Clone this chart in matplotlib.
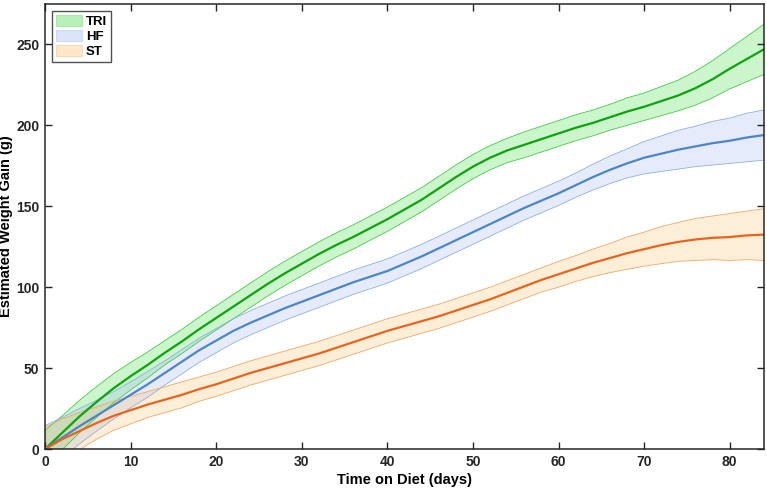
import matplotlib
matplotlib.use("Agg")
import matplotlib.pyplot as plt
from matplotlib.patches import Patch
import numpy as np

plt.rcParams['font.family'] = ['Liberation Sans', 'DejaVu Sans']
plt.rcParams['font.weight'] = 'bold'

# days on diet (every 2 days)
days = list(range(0, 85, 2))

# estimated weight gain (g) and half width of the confidence band
tri_mean = [0, 10, 20, 29, 37.5, 45, 52, 59.5, 66.5, 74, 81, 88, 95, 102, 108.5, 114.5,
            120.5, 126, 131, 136.5, 142, 148, 154, 161, 168, 174.5, 180, 184.5, 188, 191.5,
            195, 198.5, 201.5, 205, 208.5, 211.5, 215, 218.5, 223, 228.5, 235, 241, 247]
tri_half = [11.5, 10.5, 10, 9.5, 9, 8.5, 8, 7.5, 7.5, 7.5, 7.5, 7.5, 7.5, 7.5, 7.5, 7.5,
            7.5, 7.5, 7.5, 7.5, 7.5, 7.5, 7.5, 7.5, 7.5, 7.5, 7.5, 7.5, 8, 8,
            8, 8, 8, 8, 8.5, 8.5, 9, 9.5, 10.5, 11.5, 12.5, 14, 15.5]

hf_mean = [0, 7, 14, 20.5, 27, 33.5, 40, 47, 54, 61, 67, 73, 78, 82.5, 87, 91,
           95, 99, 103, 106.5, 110, 114.5, 119, 124, 129, 134, 139, 144, 149, 153.5,
           158, 163, 168, 172.5, 176.5, 180, 182.5, 185, 187, 189, 190.5, 192.5, 194]
hf_half = [14.5, 12.5, 11, 9.5, 8.5, 8, 8, 7.5, 7.5, 7.5, 7.5, 7.5, 7.5, 7.5, 7.5, 7.5,
           7.5, 7.5, 7.5, 7.5, 7.5, 7.5, 7.5, 7.5, 7.5, 7.5, 7.5, 7.5, 7.5, 7.5,
           7.5, 7.5, 8, 8.5, 9, 10, 11, 12, 12.5, 13.5, 14, 15, 15.5]

st_mean = [0, 6, 11, 16, 20.5, 24, 27.5, 30.5, 33.5, 37, 40, 43.5, 47, 50, 53, 56,
           59, 62.5, 66, 69.5, 73, 76, 79, 82, 85.5, 89, 92.5, 96.5, 100.5, 104.5,
           108, 111.5, 115, 118, 121, 123.5, 126, 128, 129.5, 130.5, 131, 132, 132.5]
st_half = [13.5, 12.5, 11.5, 10, 9, 8.5, 8, 8, 8, 7.5, 7.5, 7.5, 7.5, 7.5, 7.5, 7.5,
           7.5, 7.5, 7.5, 7.5, 7.5, 7.5, 7.5, 7.5, 7.5, 7.5, 7.5, 7.5, 7.5, 7.5,
           8, 8, 8.5, 9, 10, 10.5, 11.5, 12, 13, 13.5, 14.5, 15, 16]

labels = ['TRI', 'HF', 'ST']

x = np.array(days)
series = [
    (tri_mean, tri_half, '#0ea30e', (0.2, 0.85, 0.2), '#4cc84c'),
    (hf_mean, hf_half, '#4a86c8', (0.6, 0.7, 0.95), '#8fb0e0'),
    (st_mean, st_half, '#e8641c', (0.98, 0.75, 0.4), '#f0a868'),
]

fig = plt.figure(figsize=(7.67, 4.93), dpi=100)
ax = fig.add_axes([0.0587, 0.0892, 0.9373, 0.9027])

for (m, h, lc, fc, ec), lab in zip(series, labels):
    m = np.array(m)
    h = np.array(h)
    ax.fill_between(x, m - h, m + h, facecolor=fc, alpha=0.25, edgecolor='none')
    ax.plot(x, m + h, color=ec, lw=0.6)
    ax.plot(x, m - h, color=ec, lw=0.6)
for (m, h, lc, fc, ec) in series:
    ax.plot(x, m, color=lc, lw=1.6)

ax.set_xlim(0, 84)
ax.set_ylim(0, 275)
ax.set_xticks(range(0, 81, 10))
ax.set_yticks(range(0, 251, 50))
ax.tick_params(direction='in', length=5, width=1, top=True, right=True,
               labelsize=10, colors='#262626', pad=4)
for lab in ax.get_xticklabels() + ax.get_yticklabels():
    lab.set_fontweight('bold')
for s in ax.spines.values():
    s.set_color('#262626')
    s.set_linewidth(1.1)

ax.set_xlabel('Time on Diet (days)', fontsize=10.5, fontweight='bold', labelpad=3)
ax.set_ylabel('Estimated Weight Gain (g)', fontsize=10.5, fontweight='bold', labelpad=2)

handles = [Patch(facecolor=fc, alpha=0.35, edgecolor=ec, lw=0.8) for (m, h, lc, fc, ec) in series]
leg = ax.legend(handles, labels, loc='upper left', fontsize=9.5, frameon=True,
                fancybox=False, handlelength=2.0, handleheight=1.0,
                borderpad=0.3, labelspacing=0.12, handletextpad=0.3,
                borderaxespad=0.5)
leg.get_frame().set_edgecolor('#262626')
leg.get_frame().set_linewidth(1.0)
for t in leg.get_texts():
    t.set_fontweight('bold')

fig.savefig('out.png', dpi=100)
